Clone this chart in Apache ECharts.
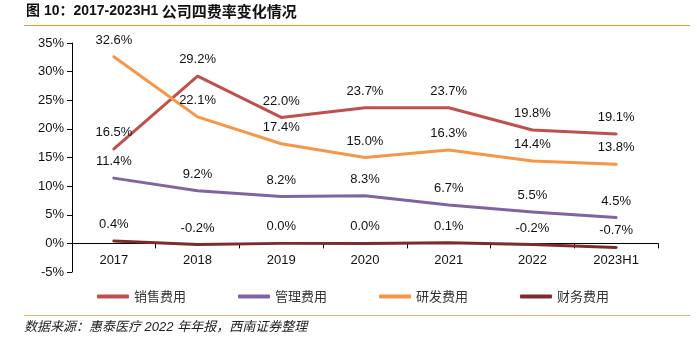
<!DOCTYPE html>
<html>
<head>
<meta charset="utf-8">
<script src="https://cdn.jsdelivr.net/npm/echarts@6/dist/echarts.min.js"></script>
<style>
  html, body { margin: 0; padding: 0; background: #fff; }
  #chart { width: 697px; height: 341px; }
</style>
</head>
<body>
<div id="chart"></div>
<script>
// Period labels on the category axis
const periods = ['2017', '2018', '2019', '2020', '2021', '2022', '2023H1'];

// Expense ratios, % of revenue
const sellingRate = [16.5, 29.2, 22.0, 23.7, 23.7, 19.8, 19.1];
const adminRate   = [11.4, 9.2, 8.2, 8.3, 6.7, 5.5, 4.5];
const rdRate      = [32.6, 22.1, 17.4, 15.0, 16.3, 14.4, 13.8];
const financeRate = [0.4, -0.2, 0.0, 0.0, 0.1, -0.2, -0.7];

const seriesNames = ['销售费用', '管理费用', '研发费用', '财务费用'];
const seriesColors = ['#C0504D', '#8064A2', '#F79646', '#7F2B2B'];

const FONT = '"Liberation Sans", Arial, "Noto Sans CJK SC", sans-serif';

function makeSeries(name, data, color) {
  return {
    name: name,
    type: 'line',
    data: data,
    symbol: 'circle',
    showSymbol: true,
    symbolSize: 0,
    lineStyle: { width: 3, color: color, cap: 'round', join: 'round' },
    itemStyle: { color: color },
    label: {
      show: true,
      position: 'top',
      distance: 10,
      color: '#111',
      fontSize: 13,
      fontFamily: FONT,
      formatter: p => p.value.toFixed(1) + '%'
    },
    labelLayout: { hideOverlap: false },
    emphasis: { disabled: true }
  };
}

const chart = echarts.init(document.getElementById('chart'), null, { renderer: 'canvas' });
chart.setOption({
  animation: false,
  backgroundColor: '#fff',
  textStyle: { fontFamily: FONT },
  grid: { left: 72, right: 39, top: 43, bottom: 69, containLabel: false },
  legend: {
    data: seriesNames,
    left: 92,
    top: 285,
    itemGap: 52,
    itemWidth: 32,
    itemHeight: 4,
    icon: 'roundRect',
    textStyle: { fontSize: 13, color: '#333', fontFamily: '"Noto Sans CJK SC", sans-serif' }
  },
  xAxis: {
    type: 'category',
    data: periods,
    boundaryGap: true,
    axisLine: { onZero: true, lineStyle: { color: '#000', width: 1 } },
    axisTick: { show: true, inside: false, length: 5, alignWithLabel: false, lineStyle: { color: '#000' } },
    axisLabel: { color: '#111', fontSize: 13, margin: -18, fontFamily: FONT },
    splitLine: { show: false }
  },
  yAxis: {
    type: 'value',
    min: -5,
    max: 35,
    interval: 5,
    axisLine: { show: true, lineStyle: { color: '#000', width: 1 } },
    axisTick: { show: true, inside: false, length: 5, lineStyle: { color: '#000' } },
    axisLabel: { color: '#111', fontSize: 13, margin: 8, formatter: '{value}%', fontFamily: FONT },
    splitLine: { show: false }
  },
  series: [
    makeSeries(seriesNames[0], sellingRate, seriesColors[0]),
    makeSeries(seriesNames[1], adminRate, seriesColors[1]),
    makeSeries(seriesNames[2], rdRate, seriesColors[2]),
    makeSeries(seriesNames[3], financeRate, seriesColors[3])
  ],
  graphic: [
    {
      type: 'text', left: 26, top: 4,
      style: {
        text: '{b|图 10：2017-2023H1} {c|公司四费率变化情况}',
        rich: {
          b: { fontSize: 14, fontWeight: 'bold', fill: '#111', fontFamily: FONT },
          c: { fontSize: 15, fontWeight: 'bold', fill: '#111', fontFamily: '"Noto Sans CJK SC", sans-serif' }
        }
      }
    },
    {
      type: 'line',
      shape: { x1: 24, y1: 25.5, x2: 690, y2: 25.5 },
      style: { stroke: '#E09A3C', lineWidth: 1 }
    },
    {
      type: 'line',
      shape: { x1: 24, y1: 315.5, x2: 690, y2: 315.5 },
      style: { stroke: '#E0B070', lineWidth: 1 }
    },
    {
      type: 'text', left: 24, top: 321,
      style: {
        text: '数据来源：惠泰医疗 2022 年年报，西南证券整理',
        fontSize: 13, fontStyle: 'italic', fill: '#222',
        fontFamily: FONT
      }
    }
  ]
});
</script>
</body>
</html>
